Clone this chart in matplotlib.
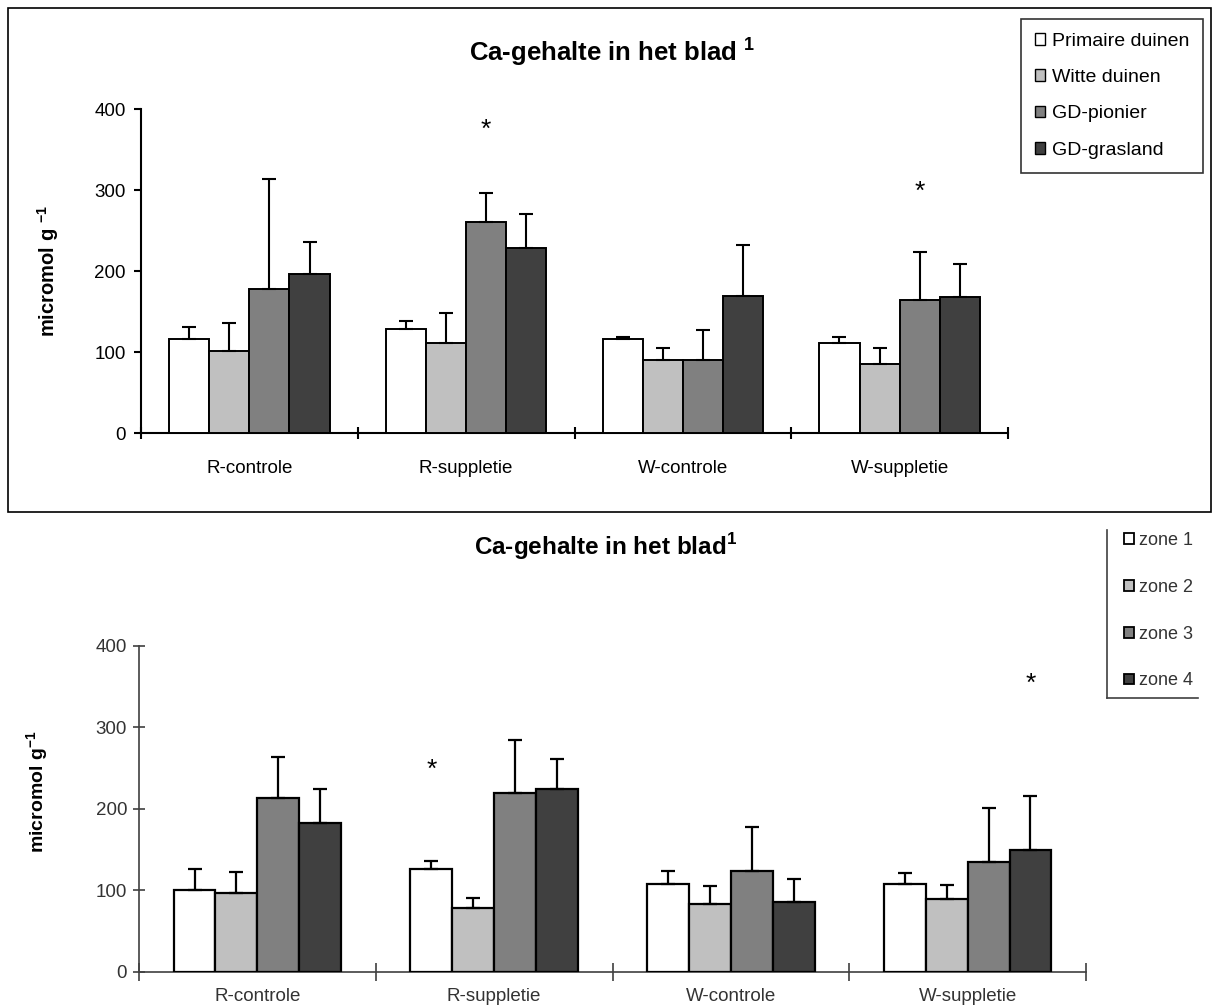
import numpy as np
import matplotlib
matplotlib.use('Agg')
import matplotlib.pyplot as plt
from matplotlib.patches import Patch, Rectangle
from matplotlib.lines import Line2D
from matplotlib import font_manager

# categories
groups = ['R-controle', 'R-suppletie', 'W-controle', 'W-suppletie']
colors = ['#FFFFFF', '#C0C0C0', '#808080', '#404040']

# upper chart: duintypen
top_names = ['Primaire duinen', 'Witte duinen', 'GD-pionier', 'GD-grasland']
top_primair = [117, 129, 117, 112]
top_primair_err = [14, 10, 2, 7]
top_witte = [102, 112, 90, 85]
top_witte_err = [34, 37, 15, 20]
top_pionier = [178, 261, 90, 165]
top_pionier_err = [136, 36, 37, 59]
top_grasland = [197, 229, 170, 168]
top_grasland_err = [39, 42, 62, 41]
top_stars = [(1, 2, 375), (3, 2, 298)]   # (group, series, height)

# lower chart: zones
bot_names = ['zone 1', 'zone 2', 'zone 3', 'zone 4']
bot_zone1 = [100, 126, 107, 107]
bot_zone1_err = [26, 10, 16, 14]
bot_zone2 = [97, 78, 83, 89]
bot_zone2_err = [25, 13, 22, 17]
bot_zone3 = [213, 219, 123, 135]
bot_zone3_err = [51, 65, 55, 66]
bot_zone4 = [183, 224, 86, 149]
bot_zone4_err = [41, 37, 28, 67]
bot_stars = [(1, 0, 248), (3, 3, 353)]

available = {f.name for f in font_manager.fontManager.ttflist}
narrow = 'Liberation Sans Narrow' if 'Liberation Sans Narrow' in available else 'Liberation Sans'

plt.rcParams['font.family'] = ['Liberation Sans', 'DejaVu Sans']
plt.rcParams['mathtext.fontset'] = 'custom'
plt.rcParams['mathtext.rm'] = 'Liberation Sans'
plt.rcParams['mathtext.bf'] = 'Liberation Sans:bold'

W, H = 1219, 1007
fig = plt.figure(figsize=(W / 100, H / 100), dpi=100)


def px_axes(x0, y0, x1, y1):
    # pixel box (top-left origin) -> figure axes
    return fig.add_axes([x0 / W, 1 - y1 / H, (x1 - x0) / W, (y1 - y0) / H])


def draw_bars(ax, means, errs, width, lw, elw):
    x = np.arange(len(groups))
    n = len(means)
    for i in range(n):
        pos = x + (i - (n - 1) / 2) * width
        ax.bar(pos, means[i], width, color=colors[i], edgecolor='black',
               linewidth=lw, zorder=3,
               yerr=[np.zeros(len(groups)), errs[i]],
               error_kw=dict(ecolor='black', elinewidth=elw, capsize=5, capthick=elw))
    return x


def style_axes(ax, spine_color, spine_lw, fontsize, family, labelcolor):
    ax.set_xlim(-0.5, 3.5)
    ax.set_ylim(0, 400)
    ax.set_yticks([0, 100, 200, 300, 400])
    ax.set_xticks(np.arange(len(groups)))
    ax.set_xticklabels(groups, fontsize=fontsize, family=family, color=labelcolor)
    ax.set_xticks(np.arange(-0.5, 4, 1), minor=True)
    for s in ['top', 'right']:
        ax.spines[s].set_visible(False)
    for s in ['left', 'bottom']:
        ax.spines[s].set_color(spine_color)
        ax.spines[s].set_linewidth(spine_lw)
    ax.tick_params(axis='x', which='major', length=0)
    ax.tick_params(axis='x', which='minor', direction='inout', length=9,
                   width=spine_lw, color=spine_color)
    for lab in ax.get_yticklabels():
        lab.set_family(family)
        lab.set_fontsize(fontsize)
        lab.set_color(labelcolor)


# ---------- upper chart ----------
fig.add_artist(Rectangle((8 / W, 1 - 512 / H), 1203 / W, 504 / H,
                         transform=fig.transFigure, fill=False,
                         edgecolor='black', linewidth=1.2))

ax1 = px_axes(141, 109.3, 1008, 433.3)
top_means = [top_primair, top_witte, top_pionier, top_grasland]
top_errs = [top_primair_err, top_witte_err, top_pionier_err, top_grasland_err]
bw1 = 0.185
draw_bars(ax1, top_means, top_errs, bw1, 1.4, 1.5)
style_axes(ax1, 'black', 1.5, 13.5, 'Liberation Sans', 'black')
ax1.tick_params(axis='y', direction='out', length=5, width=1.5, pad=6)
ax1.tick_params(axis='x', which='major', pad=19)
ax1.set_ylabel('micromol g $^{\\mathbf{-1}}$', fontsize=14.5, fontweight='bold')
ax1.yaxis.set_label_coords(-0.092, 0.5)
for g, s, h in top_stars:
    ax1.text(g + (s - 1.5) * bw1, h, '*', ha='center', va='center', fontsize=19)

fig.text(612 / W, 1 - 52 / H, 'Ca-gehalte in het blad $^{\\mathbf{1}}$',
         ha='center', va='center', fontsize=18.5, fontweight='bold')

top_handles = [Patch(facecolor=c, edgecolor='black', linewidth=1) for c in colors]
leg1 = fig.legend(top_handles, top_names, loc='upper left',
                  bbox_to_anchor=(1021 / W, 1 - 19 / H), fontsize=14,
                  frameon=True, fancybox=False, edgecolor='black',
                  handlelength=0.55, handleheight=0.55, handletextpad=0.35,
                  labelspacing=1.0, borderpad=0.7, borderaxespad=0)
leg1.get_frame().set_linewidth(1.2)

# ---------- lower chart ----------
ax2 = px_axes(139, 645.7, 1086, 971.7)
bot_means = [bot_zone1, bot_zone2, bot_zone3, bot_zone4]
bot_errs = [bot_zone1_err, bot_zone2_err, bot_zone3_err, bot_zone4_err]
bw2 = 0.177
draw_bars(ax2, bot_means, bot_errs, bw2, 1.6, 1.6)
style_axes(ax2, '#404040', 1.2, 13.5, narrow, '#333333')
ax2.tick_params(axis='y', direction='inout', length=9, width=1.2, color='#404040', pad=4)
ax2.tick_params(axis='x', which='minor', length=13)
ax2.tick_params(axis='x', which='major', pad=12)
ax2.set_ylabel('micromol g$^{\\mathbf{-1}}$', fontsize=14, fontweight='bold')
ax2.yaxis.set_label_coords(-0.093, 0.551)
for g, s, h in bot_stars:
    ax2.text(g + (s - 1.5) * bw2, h, '*', ha='center', va='center', fontsize=19)

fig.text(606 / W, 1 - 547 / H, 'Ca-gehalte in het blad$^{\\mathbf{1}}$',
         ha='center', va='center', fontsize=17.5, fontweight='bold', family=narrow)

bot_handles = [Patch(facecolor=c, edgecolor='black', linewidth=1.3) for c in colors]
leg2 = fig.legend(bot_handles, bot_names, loc='upper left',
                  bbox_to_anchor=(1124 / W, 1 - 532 / H),
                  prop={'family': narrow, 'size': 13},
                  frameon=False, handlelength=0.55, handleheight=0.55,
                  handletextpad=0.3, labelspacing=1.65, borderpad=0, borderaxespad=0)
for t in leg2.get_texts():
    t.set_color('#333333')
fig.add_artist(Line2D([1107 / W, 1107 / W], [1 - 530 / H, 1 - 698 / H],
                      transform=fig.transFigure, color='#404040', linewidth=1.2))
fig.add_artist(Line2D([1107 / W, 1198 / W], [1 - 698 / H, 1 - 698 / H],
                      transform=fig.transFigure, color='#404040', linewidth=1.2))

fig.savefig('out.png', dpi=100, facecolor='white')
